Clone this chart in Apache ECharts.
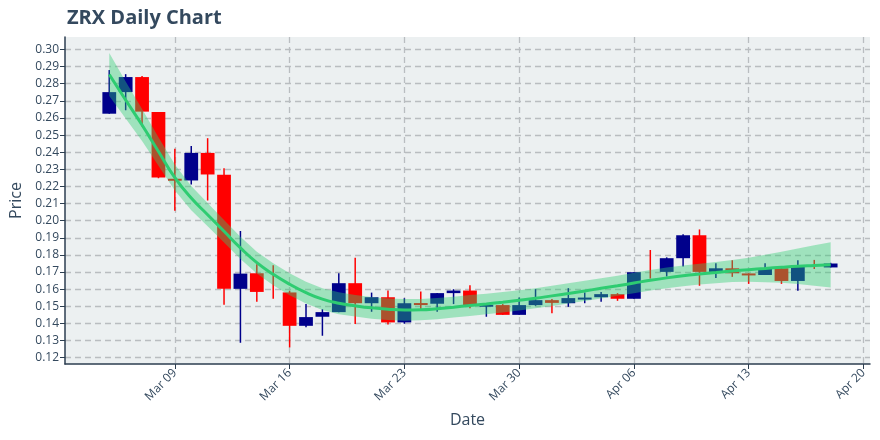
<!DOCTYPE html>
<html>
<head>
<meta charset="utf-8">
<script src="https://cdn.jsdelivr.net/npm/echarts@6/dist/echarts.min.js"></script>
<style>html,body{margin:0;padding:0;background:#fff}#c{width:880px;height:440px}</style>
</head>
<body>
<div id="c"></div>
<script>
// ---- data ----
const dates = ['2020-03-05','2020-03-06','2020-03-07','2020-03-08','2020-03-09','2020-03-10','2020-03-11','2020-03-12','2020-03-13','2020-03-14',
  '2020-03-15','2020-03-16','2020-03-17','2020-03-18','2020-03-19','2020-03-20','2020-03-21','2020-03-22','2020-03-23','2020-03-24',
  '2020-03-25','2020-03-26','2020-03-27','2020-03-28','2020-03-29','2020-03-30','2020-03-31','2020-04-01','2020-04-02','2020-04-03',
  '2020-04-04','2020-04-05','2020-04-06','2020-04-07','2020-04-08','2020-04-09','2020-04-10','2020-04-11','2020-04-12','2020-04-13',
  '2020-04-14','2020-04-15','2020-04-16','2020-04-17','2020-04-18'];
const openP = [0.2625,0.2751,0.2839,0.2635,0.2245,0.2235,0.2396,0.2268,0.1602,0.1693,
  0.1600,0.1581,0.1386,0.1439,0.1466,0.1635,0.1518,0.1553,0.1406,0.1519,
  0.1515,0.1577,0.1592,0.1505,0.1507,0.1450,0.1507,0.1536,0.1518,0.1547,
  0.1553,0.1571,0.1544,0.1740,0.1701,0.1781,0.1915,0.1701,0.1722,0.1692,
  0.1683,0.1722,0.1648,0.1740,0.1727];
const closeP = [0.2751,0.2839,0.2637,0.2252,0.2235,0.2396,0.2270,0.1602,0.1691,0.1584,
  0.1600,0.1386,0.1437,0.1466,0.1635,0.1518,0.1553,0.1406,0.1518,0.1515,
  0.1577,0.1592,0.1503,0.1509,0.1450,0.1507,0.1536,0.1520,0.1548,0.1551,
  0.1571,0.1544,0.1699,0.1740,0.1781,0.1915,0.1701,0.1722,0.1693,0.1683,
  0.1722,0.1648,0.1732,0.1740,0.1750];
const lowP = [0.2625,0.2645,0.2550,0.2248,0.2058,0.2212,0.2118,0.1509,0.1287,0.1526,
  0.1544,0.1260,0.1377,0.1328,0.1466,0.1396,0.1468,0.1394,0.1398,0.1483,
  0.1468,0.1513,0.1489,0.1439,0.1450,0.1450,0.1503,0.1460,0.1497,0.1518,
  0.1526,0.1532,0.1544,0.1662,0.1674,0.1732,0.1620,0.1666,0.1672,0.1631,
  0.1683,0.1631,0.1591,0.1718,0.1727];
const highP = [0.2880,0.2856,0.2845,0.2635,0.2420,0.2437,0.2482,0.2307,0.1940,0.1745,
  0.1740,0.1590,0.1513,0.1483,0.1693,0.1784,0.1580,0.1592,0.1547,0.1586,
  0.1577,0.1600,0.1623,0.1509,0.1513,0.1551,0.1600,0.1542,0.1606,0.1581,
  0.1584,0.1577,0.1699,0.1829,0.1786,0.1921,0.1949,0.1751,0.1769,0.1693,
  0.1751,0.1727,0.1769,0.1771,0.1754];
const fitP = [0.2854,0.2705,0.2559,0.2404,0.2252,0.2132,0.2035,0.1938,0.1841,0.1755,
  0.1687,0.1629,0.1580,0.1542,0.1518,0.1503,0.1491,0.1483,0.1479,0.1480,
  0.1486,0.1495,0.1505,0.1514,0.1524,0.1535,0.1547,0.1561,0.1575,0.1590,
  0.1605,0.1620,0.1636,0.1652,0.1666,0.1678,0.1688,0.1697,0.1706,0.1714,
  0.1721,0.1728,0.1734,0.1738,0.1742];
const bandUpper = [0.2979,0.2813,0.2653,0.2487,0.2328,0.2203,0.2103,0.2004,0.1906,0.1819,
  0.1751,0.1693,0.1644,0.1606,0.1582,0.1566,0.1554,0.1546,0.1542,0.1542,
  0.1548,0.1556,0.1566,0.1574,0.1584,0.1594,0.1606,0.1620,0.1634,0.1649,
  0.1664,0.1679,0.1696,0.1712,0.1726,0.1739,0.1749,0.1759,0.1770,0.1784,
  0.1801,0.1819,0.1838,0.1856,0.1874];
const bandLower = [0.2729,0.2597,0.2465,0.2321,0.2176,0.2061,0.1967,0.1872,0.1776,0.1691,
  0.1623,0.1565,0.1516,0.1478,0.1454,0.1440,0.1428,0.1420,0.1416,0.1418,
  0.1424,0.1434,0.1444,0.1454,0.1464,0.1476,0.1488,0.1502,0.1516,0.1531,
  0.1546,0.1561,0.1576,0.1592,0.1606,0.1617,0.1627,0.1635,0.1642,0.1644,
  0.1641,0.1637,0.1630,0.1620,0.1610];
const xTickDates = ['2020-03-09','2020-03-16','2020-03-23','2020-03-30','2020-04-06','2020-04-13','2020-04-20'];
const yTicks = [0.12,0.13,0.14,0.15,0.16,0.17,0.18,0.19,0.20,0.21,0.22,0.23,0.24,0.25,0.26,0.27,0.28,0.29,0.30];

// ---- helpers ----
const MONTHS = ['Jan','Feb','Mar','Apr','May','Jun','Jul','Aug','Sep','Oct','Nov','Dec'];
function dayNum(iso){ const p = iso.split('-').map(Number); return (Date.UTC(p[0],p[1]-1,p[2]) - Date.UTC(2020,2,1))/864e5; }
function dayLabel(n){ const d = new Date(Date.UTC(2020,2,1) + Math.round(n)*864e5); return MONTHS[d.getUTCMonth()] + ' ' + String(d.getUTCDate()).padStart(2,'0'); }

const BLUE = '#00008B', RED = '#FF0000', GREEN = '#2ecc71', TXT = '#34495e', AX = '#2c3e50';
const candleData = dates.map((d,i)=>[dayNum(d), openP[i], closeP[i], lowP[i], highP[i]]);
const fitData = dates.map((d,i)=>[dayNum(d), fitP[i]]);
const xTicks = xTickDates.map(dayNum);

const chart = echarts.init(document.getElementById('c'), null, {renderer:'canvas'});
chart.setOption({
  animation:false,
  backgroundColor:'#ffffff',
  title:{text:'ZRX Daily Chart', left:62, top:3, textStyle:{fontFamily:'Open Sans', fontSize:20, fontWeight:'bold', color:TXT}},
  grid:{left:65, right:10, top:37, bottom:76, show:true, backgroundColor:'#ecf0f1', borderWidth:0, containLabel:false, outerBoundsMode:'none'},
  xAxis:{
    type:'value', min:1.3, max:50.4,
    name:'Date', nameLocation:'middle', nameGap:48,
    nameTextStyle:{fontFamily:'Open Sans', fontSize:16, color:TXT},
    axisLine:{show:true, onZero:false, lineStyle:{color:AX, width:1.5}},
    axisTick:{show:true, length:5, customValues:xTicks, lineStyle:{color:AX}},
    axisLabel:{customValues:xTicks, rotate:45, margin:7, fontFamily:'Open Sans', fontSize:12, color:TXT, formatter:v=>dayLabel(v)},
    splitLine:{show:true, lineStyle:{color:'#b9bdc0', type:[6,4], width:1.3}}
  },
  yAxis:{
    type:'value', min:0.1163, max:0.3073,
    name:'Price', nameLocation:'middle', nameGap:41,
    nameTextStyle:{fontFamily:'Open Sans', fontSize:16, color:TXT},
    axisLine:{show:true, onZero:false, lineStyle:{color:AX, width:1.5}},
    axisTick:{show:true, length:5, customValues:yTicks, lineStyle:{color:AX}},
    axisLabel:{customValues:yTicks, margin:6, fontFamily:'Open Sans', fontSize:12, color:TXT, formatter:v=>v.toFixed(2)},
    splitLine:{show:true, lineStyle:{color:'#b9bdc0', type:[6,4], width:1.3}}
  },
  series:[
    {
      type:'custom', z:2, clip:true,
      encode:{x:0, y:[1,2,3,4]},
      data:candleData,
      renderItem:function(params, api){
        const x = api.value(0), o = api.value(1), c = api.value(2), l = api.value(3), h = api.value(4);
        const pO = api.coord([x,o]), pC = api.coord([x,c]), pL = api.coord([x,l]), pH = api.coord([x,h]);
        const w = api.size([1,0])[0]*0.84;
        const color = c > o ? BLUE : RED;
        const children = [{type:'line', shape:{x1:pH[0], y1:pH[1], x2:pL[0], y2:pL[1]}, style:{stroke:color, lineWidth:1.5}}];
        if (o !== c) {
          const top = Math.min(pO[1], pC[1]);
          const hh = Math.max(Math.abs(pO[1]-pC[1]), 2);
          children.push({type:'rect', shape:{x:pO[0]-w/2, y:top, width:w, height:hh}, style:{fill:color}});
        }
        return {type:'group', children:children};
      }
    },
    {
      type:'custom', z:3, silent:true,
      encode:{x:0, y:1},
      data:[[dayNum(dates[0]), fitP[0]]],
      renderItem:function(params, api){
        const pts = [];
        for (let i=0;i<dates.length;i++) pts.push(api.coord([dayNum(dates[i]), bandUpper[i]]));
        for (let i=dates.length-1;i>=0;i--) pts.push(api.coord([dayNum(dates[i]), bandLower[i]]));
        return {type:'polygon', shape:{points:pts}, style:{fill:'rgba(46,204,113,0.4)'}};
      }
    },
    {
      type:'line', z:4, data:fitData, showSymbol:false, symbol:'none', smooth:true,
      lineStyle:{color:GREEN, width:3}
    }
  ]
});
</script>
</body>
</html>
